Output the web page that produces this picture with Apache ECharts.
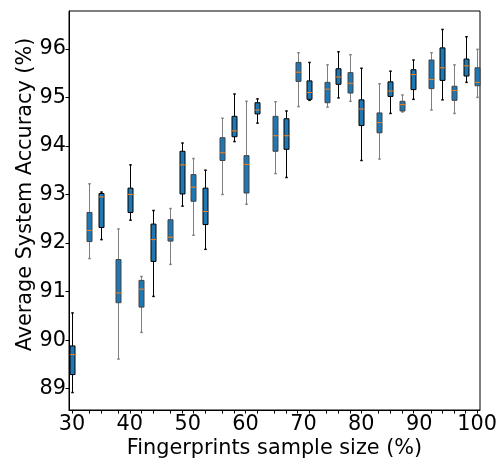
<!DOCTYPE html>
<html>
<head>
<meta charset="utf-8">
<script src="https://cdn.jsdelivr.net/npm/echarts@6/dist/echarts.min.js"></script>
<style>html,body{margin:0;padding:0;background:#fff}#c{width:500px;height:464px}</style>
</head>
<body>
<div id="c"></div>
<script>
const positions = [30,33,35,38,40,42,44,47,49,51,53,56,58,60,62,65,67,69,71,74,76,78,80,83,85,87,89,92,94,96,98,100];
const mins    = [88.92,91.68,92.07,89.61,92.47,90.16,90.90,91.56,92.76,92.16,91.87,93.00,94.09,92.80,94.47,93.43,93.35,94.81,94.94,94.80,94.99,94.92,93.70,93.73,94.67,94.70,94.96,94.74,94.95,94.67,95.31,95.00];
const q1s     = [89.29,92.03,92.32,90.77,92.63,90.68,91.62,92.04,93.01,92.86,92.38,93.70,94.19,93.03,94.66,93.89,93.93,95.33,94.96,94.89,95.27,95.09,94.42,94.27,95.02,94.72,95.16,95.18,95.35,94.94,95.44,95.24];
const medians = [89.70,92.26,92.95,90.97,93.00,91.05,92.07,92.12,93.61,93.15,92.65,93.86,94.31,93.62,94.74,94.21,94.21,95.52,95.10,95.17,95.42,95.29,94.76,94.48,95.13,94.85,95.47,95.37,95.61,95.14,95.65,95.31];
const q3s     = [89.88,92.63,93.02,91.66,93.13,91.23,92.39,92.48,93.89,93.41,93.13,94.17,94.61,93.80,94.89,94.61,94.56,95.72,95.34,95.31,95.59,95.51,94.95,94.68,95.32,94.92,95.57,95.77,96.02,95.23,95.79,95.61];
const maxs    = [90.56,93.22,93.05,92.29,93.61,91.31,92.67,92.71,94.06,93.74,93.50,94.57,95.07,94.92,94.97,94.91,94.72,95.92,95.72,95.67,95.94,95.88,95.60,95.28,95.54,95.05,95.77,95.92,96.40,95.67,96.25,95.99];
const xTickLabels = [30,40,50,60,70,80,90,100];
const yTickLabels = [89,90,91,92,93,94,95,96];

const data = positions.map((p, i) => [p, mins[i], q1s[i], medians[i], q3s[i], maxs[i]]);

const chart = echarts.init(document.getElementById('c'), null, {renderer: 'canvas'});
const FONT = 'DejaVu Sans';
const FS = 20.8;
const BOXW = 5, CAPW = 2.5;

function renderItem(params, api) {
  const idx = params.dataIndex;
  const x = api.value(0);
  const pMin = api.coord([x, api.value(1)]);
  const pQ1 = api.coord([x, api.value(2)]);
  const pMed = api.coord([x, api.value(3)]);
  const pQ3 = api.coord([x, api.value(4)]);
  const pMax = api.coord([x, api.value(5)]);
  const cx = Math.round(pMin[0]) + 0.5;
  const grey = idx % 2 === 1;
  const wc = grey ? '#7f7f7f' : '#000000';
  const bc = grey ? '#444444' : '#000000';
  const children = [
    {type: 'line', shape: {x1: cx, y1: pMin[1], x2: cx, y2: pQ1[1]}, style: {stroke: wc, lineWidth: 1}},
    {type: 'line', shape: {x1: cx, y1: pQ3[1], x2: cx, y2: pMax[1]}, style: {stroke: wc, lineWidth: 1}},
    {type: 'line', shape: {x1: cx - CAPW/2, y1: pMin[1], x2: cx + CAPW/2, y2: pMin[1]}, style: {stroke: wc, lineWidth: 1.5}},
    {type: 'line', shape: {x1: cx - CAPW/2, y1: pMax[1], x2: cx + CAPW/2, y2: pMax[1]}, style: {stroke: wc, lineWidth: 1.5}},
    {type: 'rect', shape: {x: cx - BOXW/2, y: pQ3[1], width: BOXW, height: pQ1[1] - pQ3[1]}, style: {fill: '#1f77b4', stroke: bc, lineWidth: 1}},
    {type: 'line', shape: {x1: cx - BOXW/2, y1: pMed[1], x2: cx + BOXW/2, y2: pMed[1]}, style: {stroke: '#ff7f0e', lineWidth: 1}}
  ];
  return {type: 'group', children};
}

chart.setOption({
  animation: false,
  backgroundColor: '#ffffff',
  grid: {left: 69, right: 20, top: 11, bottom: 54, show: true, borderColor: '#000', borderWidth: 1, containLabel: false},
  xAxis: {
    type: 'value', min: 29.5, max: 100.5,
    name: 'Fingerprints sample size (%)', nameLocation: 'middle', nameGap: 28, nameMoveOverlap: false,
    nameTextStyle: {fontFamily: FONT, fontSize: FS, color: '#000'},
    axisLine: {show: true, lineStyle: {color: '#000', width: 1}},
    axisTick: {show: true, length: 3.5, customValues: positions, lineStyle: {color: '#000'}},
    axisLabel: {customValues: xTickLabels, fontFamily: FONT, fontSize: FS, color: '#000', margin: 4},
    splitLine: {show: false}
  },
  yAxis: {
    type: 'value', min: 88.56, max: 96.78,
    name: 'Average System Accuracy (%)', nameLocation: 'middle', nameGap: 33, nameMoveOverlap: false,
    nameTextStyle: {fontFamily: FONT, fontSize: FS, color: '#000', padding: [0, 0, 0, 32]},
    axisLine: {show: true, lineStyle: {color: '#000', width: 1}},
    axisTick: {show: true, length: 3.5, customValues: yTickLabels, lineStyle: {color: '#000'}},
    axisLabel: {customValues: yTickLabels, fontFamily: FONT, fontSize: FS, color: '#000', margin: 3},
    splitLine: {show: false}
  },
  series: [{
    type: 'custom',
    renderItem: renderItem,
    encode: {x: 0, y: [1, 2, 3, 4, 5]},
    data: data,
    clip: false
  }]
});
</script>
</body>
</html>
